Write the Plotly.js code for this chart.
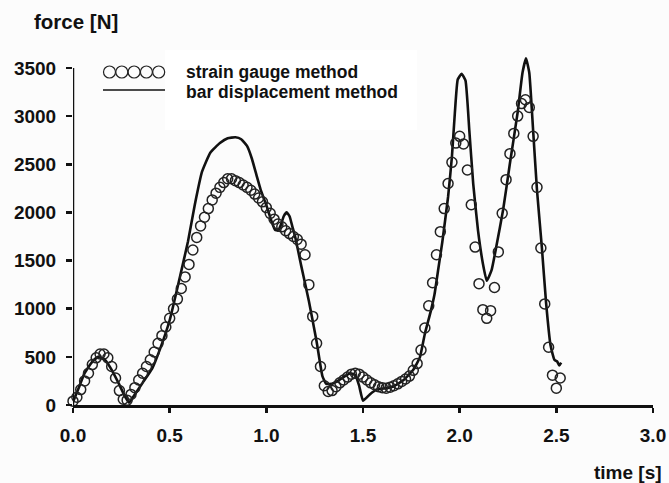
<!DOCTYPE html>
<html>
<head>
<meta charset="utf-8">
<script src="https://cdn.plot.ly/plotly-3.0.1.min.js"></script>
<style>html,body{margin:0;padding:0;background:#fcfcfc;}#chart{width:669px;height:483px;}</style>
</head>
<body>
<div id="chart"></div>
<script>
// strain gauge method (open circles)
const strainTime = [0.00,0.02,0.04,0.06,0.08,0.10,0.12,0.14,0.16,0.18,0.20,0.22,0.24,0.26,0.28,0.30,0.32,0.34,0.36,0.38,0.40,0.42,0.44,0.46,0.48,0.50,0.52,0.54,0.56,0.58,0.60,0.62,0.64,0.66,0.68,0.70,0.72,0.74,0.76,0.78,0.80,0.82,0.84,0.86,0.88,0.90,0.92,0.94,0.96,0.98,1.00,1.02,1.04,1.06,1.08,1.10,1.12,1.14,1.16,1.18,1.20,1.22,1.24,1.26,1.28,1.30,1.32,1.34,1.36,1.38,1.40,1.42,1.44,1.46,1.48,1.50,1.52,1.54,1.56,1.58,1.60,1.62,1.64,1.66,1.68,1.70,1.72,1.74,1.76,1.78,1.80,1.82,1.84,1.86,1.88,1.90,1.92,1.94,1.96,1.98,2.00,2.02,2.04,2.06,2.08,2.10,2.12,2.14,2.16,2.18,2.20,2.22,2.24,2.26,2.28,2.30,2.32,2.34,2.36,2.38,2.40,2.42,2.44,2.46,2.48,2.50,2.52];
const strainForce = [40,80,160,250,330,420,490,530,530,490,400,280,150,60,50,110,180,260,330,400,470,550,640,720,810,900,1000,1100,1210,1330,1460,1610,1740,1860,1950,2040,2130,2200,2260,2310,2350,2350,2330,2310,2285,2260,2230,2190,2150,2110,2050,1990,1930,1880,1850,1810,1780,1750,1720,1670,1560,1250,920,640,400,200,140,150,190,230,260,290,320,330,320,290,260,230,210,190,180,175,185,200,220,245,270,300,360,430,570,800,1030,1270,1560,1800,2040,2300,2520,2720,2790,2710,2440,2080,1640,1260,990,900,980,1220,1590,1990,2340,2610,2820,3000,3130,3170,3090,2790,2260,1630,1050,600,310,175,280];

// bar displacement method (solid line)
const barTime = [0.00,0.03,0.06,0.10,0.13,0.165,0.20,0.235,0.27,0.29,0.31,0.36,0.41,0.45,0.50,0.553,0.595,0.63,0.667,0.71,0.76,0.80,0.84,0.87,0.90,0.925,0.95,0.97,1.00,1.03,1.045,1.06,1.075,1.09,1.105,1.12,1.135,1.15,1.18,1.22,1.26,1.29,1.31,1.34,1.37,1.40,1.435,1.46,1.48,1.50,1.535,1.57,1.62,1.66,1.71,1.76,1.795,1.82,1.85,1.87,1.89,1.91,1.94,1.96,1.975,1.99,2.01,2.03,2.05,2.07,2.095,2.12,2.14,2.165,2.19,2.225,2.26,2.30,2.325,2.343,2.36,2.38,2.40,2.425,2.447,2.47,2.49,2.505,2.515,2.525];
const barForce = [30,180,330,450,500,470,365,230,85,25,80,230,380,580,880,1330,1700,2080,2420,2620,2720,2770,2780,2760,2690,2560,2380,2240,2075,1890,1820,1810,1870,1960,2000,1960,1850,1740,1450,1080,660,300,220,220,250,290,330,310,200,45,110,160,175,195,260,365,500,740,970,1150,1420,1690,2160,2580,3030,3380,3440,3370,2850,2300,1810,1470,1290,1400,1650,2030,2510,3040,3450,3600,3450,2850,2230,1640,1060,620,470,450,410,440];

const xTicks = [0, 0.5, 1.0, 1.5, 2.0, 2.5, 3.0];
const xTickText = ['0.0','0.5','1.0','1.5','2.0','2.5','3.0'];
const yTicks = [0, 500, 1000, 1500, 2000, 2500, 3000, 3500];
const seriesNames = ['strain gauge method', 'bar displacement method'];
const xLabel = 'time [s]';
const yLabel = 'force [N]';

const FONT = 'Liberation Sans, Arial, Helvetica, sans-serif';
const INK = '#111111';

const traces = [
  {
    x: barTime, y: barForce, type: 'scatter', mode: 'lines', name: seriesNames[1],
    line: {color: INK, width: 2.6, shape: 'spline', smoothing: 0.4},
    showlegend: false, hoverinfo: 'skip'
  },
  {
    x: strainTime, y: strainForce, type: 'scatter', mode: 'markers', name: seriesNames[0],
    marker: {symbol: 'circle-open', size: 10, color: '#222222', line: {width: 1.5, color: '#222222'}},
    cliponaxis: false, showlegend: false, hoverinfo: 'skip'
  }
];

// plot area: x 73..653 px, y 54..405 px
const pw = 580, ph = 351, ml = 73, mt = 54;
const px = v => (v - ml) / pw;
const py = v => (mt + ph - v) / ph;

const shapes = [
  // legend white box
  {type: 'rect', xref: 'paper', yref: 'paper', x0: px(165), x1: px(417), y0: py(130), y1: py(50),
   fillcolor: '#ffffff', line: {width: 0}, layer: 'below'},
  // y axis line from 0 to 3500
  {type: 'line', xref: 'x', yref: 'y', x0: 0, x1: 0, y0: 0, y1: yTicks[yTicks.length - 1],
   line: {color: INK, width: 2.5}},
  // legend line sample
  {type: 'line', xref: 'paper', yref: 'paper', x0: px(103), x1: px(165), y0: py(90), y1: py(90),
   line: {color: INK, width: 1.5}}
];
for (let i = 0; i < 5; i++) {
  const cx = 109.5 + i * 12.3, cy = 72, r = 6;
  shapes.push({type: 'circle', xref: 'paper', yref: 'paper',
    x0: px(cx - r), x1: px(cx + r), y0: py(cy + r), y1: py(cy - r),
    line: {color: '#222222', width: 1.2}});
}

const annotations = [
  {text: seriesNames[0], xref: 'paper', yref: 'paper', x: px(184), y: py(72), xanchor: 'left', yanchor: 'middle',
   showarrow: false, font: {family: FONT, size: 17.5, color: INK, weight: 'bold'}},
  {text: seriesNames[1], xref: 'paper', yref: 'paper', x: px(184), y: py(92), xanchor: 'left', yanchor: 'middle',
   showarrow: false, font: {family: FONT, size: 17.5, color: INK, weight: 'bold'}},
  {text: yLabel, xref: 'paper', yref: 'paper', x: px(32), y: py(22), xanchor: 'left', yanchor: 'middle',
   showarrow: false, font: {family: FONT, size: 20.5, color: INK, weight: 'bold'}},
  {text: xLabel, xref: 'paper', yref: 'paper', x: px(664), y: py(472), xanchor: 'right', yanchor: 'middle',
   showarrow: false, font: {family: FONT, size: 19, color: INK, weight: 'bold'}}
];

const layout = {
  width: 669, height: 483,
  margin: {l: 73, r: 16, t: 54, b: 78, pad: 0},
  paper_bgcolor: '#fcfcfc', plot_bgcolor: '#fcfcfc',
  showlegend: false,
  xaxis: {
    range: [0, 3.0], tickmode: 'array', tickvals: xTicks, ticktext: xTickText,
    ticks: 'outside', ticklen: 5, tickwidth: 2.5, tickcolor: INK,
    showline: true, linewidth: 2.5, linecolor: INK, showgrid: false, zeroline: false,
    tickfont: {family: FONT, size: 19, color: INK, weight: 'bold'}, ticklabelstandoff: 7
  },
  yaxis: {
    range: [0, 3645], tickmode: 'array', tickvals: yTicks,
    ticks: 'outside', ticklen: 6, tickwidth: 2.5, tickcolor: INK,
    showline: false, showgrid: false, zeroline: false,
    tickfont: {family: FONT, size: 19, color: INK, weight: 'bold'}, ticklabelstandoff: 6
  },
  shapes: shapes,
  annotations: annotations
};

Plotly.newPlot('chart', traces, layout, {staticPlot: true, displayModeBar: false});
</script>
</body>
</html>
